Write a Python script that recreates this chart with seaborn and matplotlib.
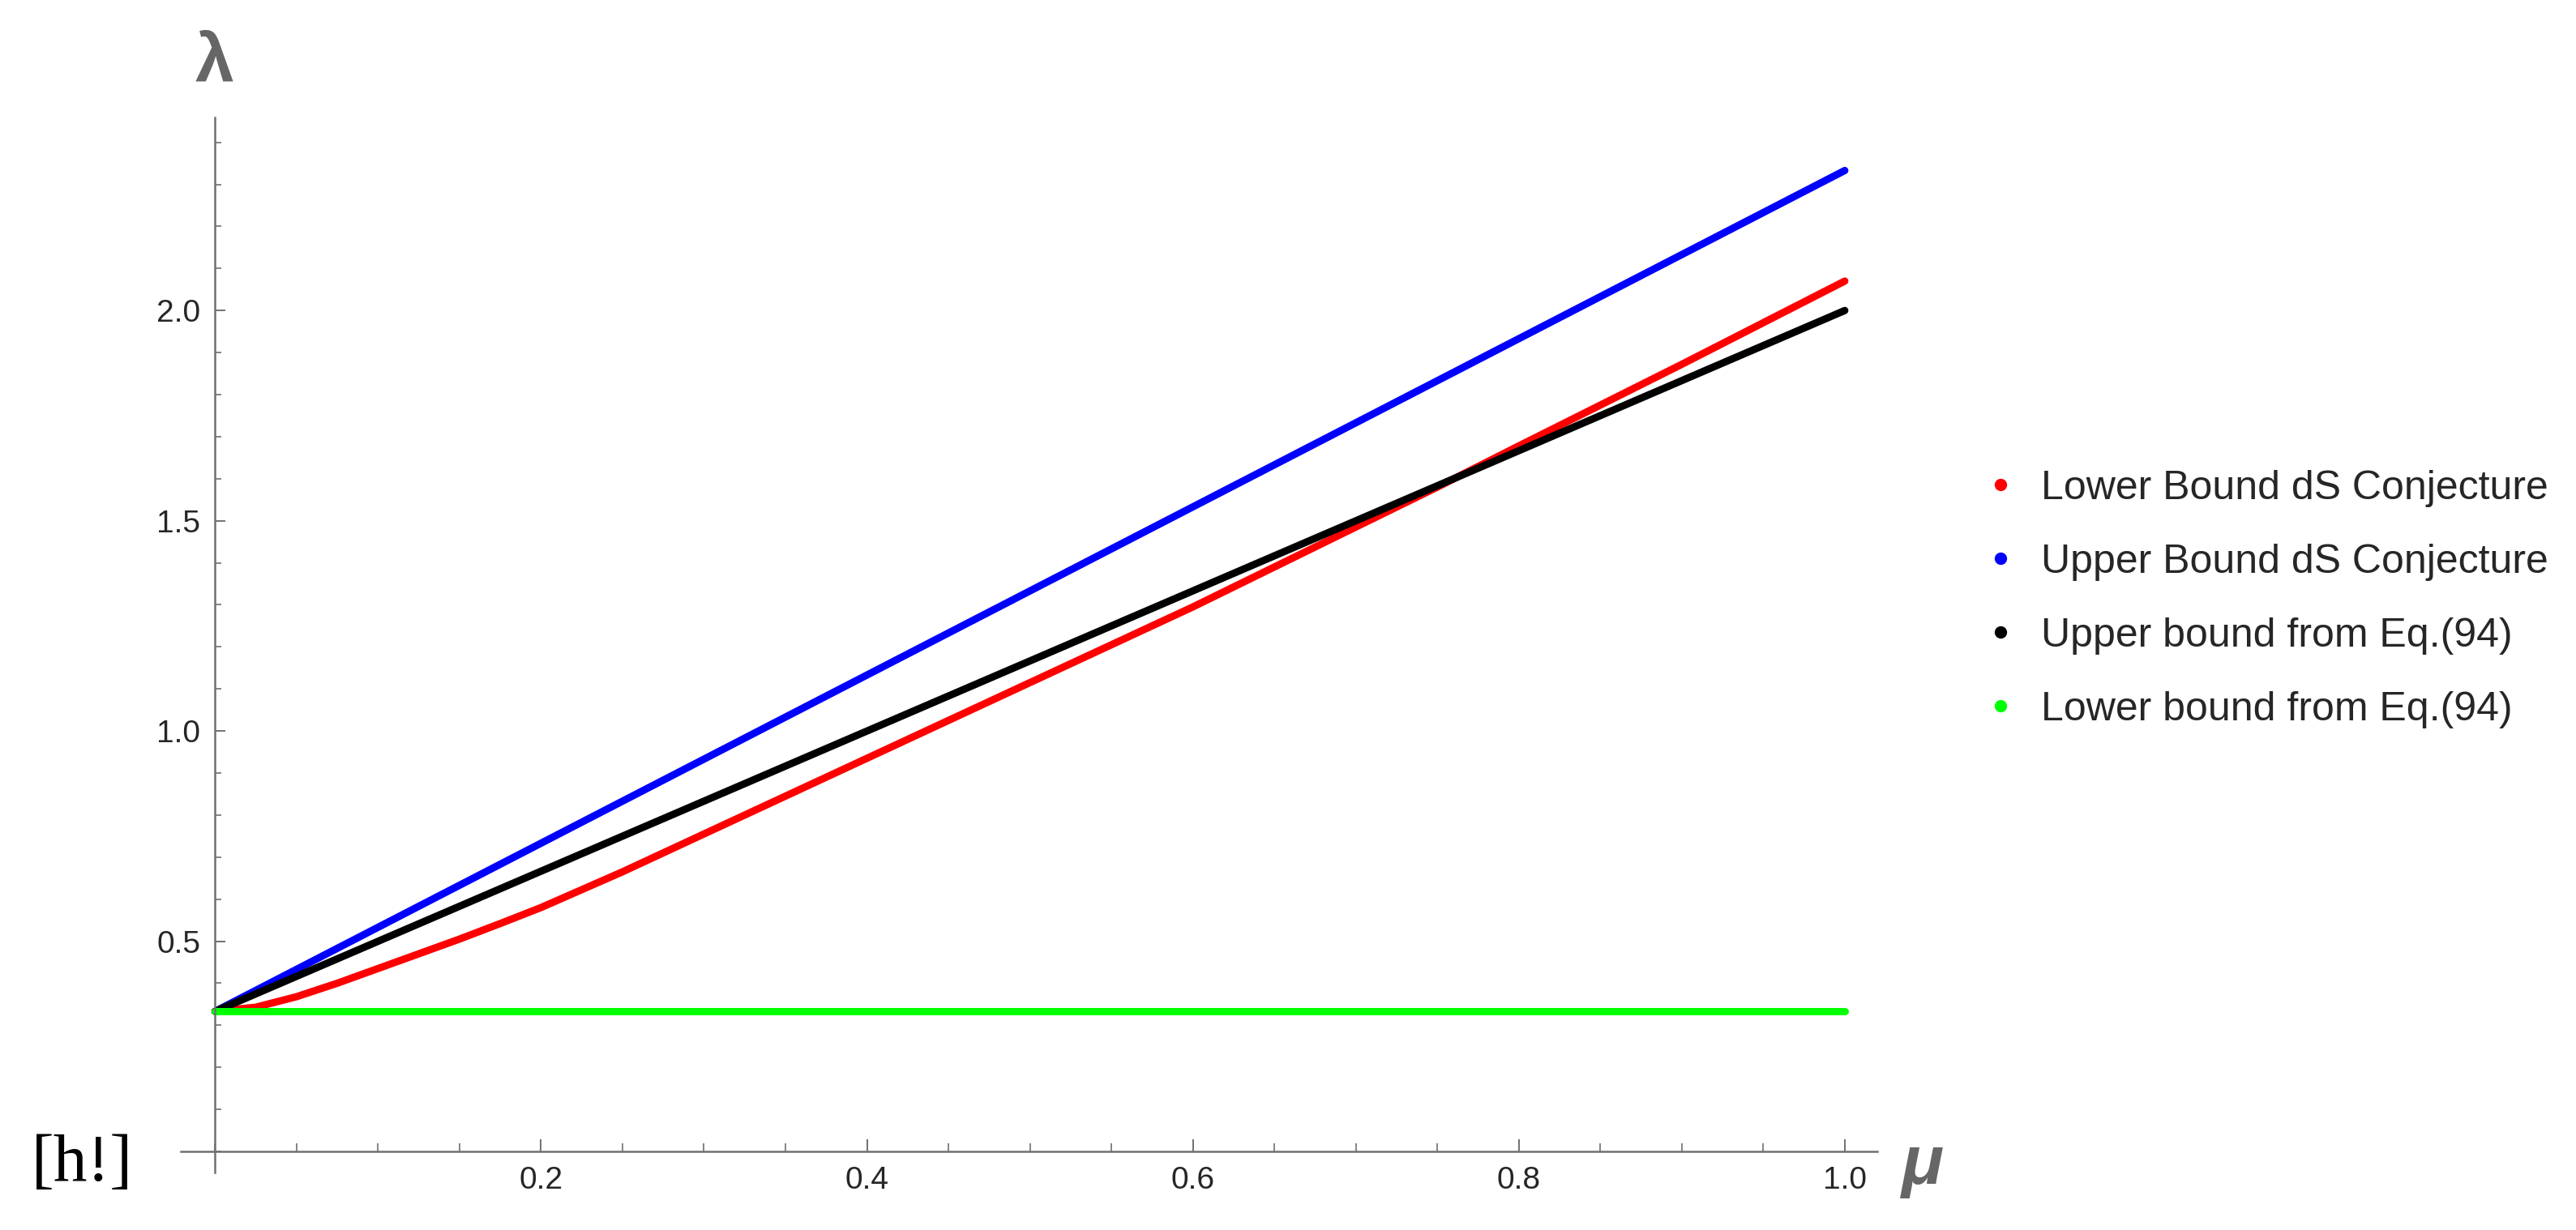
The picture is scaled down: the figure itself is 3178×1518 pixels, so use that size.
import numpy as np
import pandas as pd
import seaborn as sns
from matplotlib import pyplot as plt
from matplotlib.lines import Line2D
from matplotlib.ticker import MultipleLocator, FixedLocator

# values
mu_red = [0.0, 0.025, 0.05, 0.075, 0.1, 0.125, 0.15, 0.175, 0.2, 0.25, 0.3, 0.35,
          0.4, 0.45, 0.5, 0.55, 0.6, 0.65, 0.7, 0.75, 0.8, 0.85, 0.9, 0.95, 1.0]
lam_red = [0.333, 0.343, 0.368, 0.4, 0.435, 0.47, 0.505, 0.542, 0.58, 0.665,
           0.755, 0.845, 0.935, 1.025, 1.115, 1.205, 1.295, 1.39, 1.485, 1.58,
           1.678, 1.775, 1.872, 1.971, 2.07]
mu_ends = [0.0, 1.0]
lam_blue = [0.333, 2.333]
lam_black = [0.333, 2.0]
lam_green = [0.333, 0.333]

labels = ["Lower Bound dS Conjecture", "Upper Bound dS Conjecture",
          "Upper bound from Eq.(94)", "Lower bound from Eq.(94)"]
colors = ["#ff0000", "#0000ff", "#000000", "#00ff00"]

x_ticks = [0.2, 0.4, 0.6, 0.8, 1.0]
y_ticks = [0.5, 1.0, 1.5, 2.0]


def build_frame() -> pd.DataFrame:
    parts = [
        pd.DataFrame({"mu": mu_red, "lam": lam_red, "series": labels[0]}),
        pd.DataFrame({"mu": mu_ends, "lam": lam_blue, "series": labels[1]}),
        pd.DataFrame({"mu": mu_ends, "lam": lam_black, "series": labels[2]}),
        pd.DataFrame({"mu": mu_ends, "lam": lam_green, "series": labels[3]}),
    ]
    return pd.concat(parts, ignore_index=True)


def main():
    sns.set_style("white")
    plt.rcParams["font.family"] = ["Liberation Sans", "DejaVu Sans"]

    df = build_frame()
    axis_grey = "#707070"

    fig = plt.figure(figsize=(31.78, 15.18), dpi=100)
    ax = fig.add_axes([0.0702, 0.0468, 0.6586, 0.858])

    sns.lineplot(data=df, x="mu", y="lam", hue="series", hue_order=labels,
                 palette=colors, linewidth=6.5, legend=False, sort=False,
                 estimator=None, ax=ax, solid_capstyle="round",
                 solid_joinstyle="round")

    ax.set_xlim(-0.021, 1.02)
    ax.set_ylim(-0.05, 2.46)

    # Mathematica style axes crossing at the origin
    for side in ["top", "right"]:
        ax.spines[side].set_visible(False)
    for side in ["left", "bottom"]:
        ax.spines[side].set_position(("data", 0))
        ax.spines[side].set_color(axis_grey)
        ax.spines[side].set_linewidth(1.8)

    ax.xaxis.set_major_locator(FixedLocator(x_ticks))
    ax.yaxis.set_major_locator(FixedLocator(y_ticks))
    ax.xaxis.set_minor_locator(MultipleLocator(0.05))
    ax.yaxis.set_minor_locator(MultipleLocator(0.1))
    ax.set_xticklabels([f"{v:.1f}" for v in x_ticks])
    ax.set_yticklabels([f"{v:.1f}" for v in y_ticks])

    ax.tick_params(which="both", bottom=True, left=True)
    ax.tick_params(axis="x", which="major", direction="in", length=11, width=1.4,
                   color=axis_grey, labelsize=28, pad=13)
    ax.tick_params(axis="x", which="minor", direction="in", length=7.5, width=1.2,
                   color=axis_grey)
    ax.tick_params(axis="y", which="major", direction="in", length=9, width=1.4,
                   color=axis_grey, labelsize=28, pad=13)
    ax.tick_params(axis="y", which="minor", direction="in", length=6, width=1.2,
                   color=axis_grey)
    ax.set_xlabel("")
    ax.set_ylabel("")

    # axis names
    fig.text(0.0834, 0.948, "λ", fontsize=62, fontweight="bold",
             color="#666666", ha="center", va="center")
    fig.text(0.7465, 0.052, "μ", fontsize=62, fontweight="bold", style="italic",
             color="#666666", ha="center", va="center")
    fig.text(0.032, 0.053, "[h!]", fontsize=60, family="Liberation Serif",
             color="black", ha="center", va="center")

    handles = [Line2D([0], [0], marker="o", linestyle="none", markersize=10,
                      markerfacecolor=c, markeredgecolor=c) for c in colors]
    ax.legend(handles, labels, loc="center left", bbox_to_anchor=(0.772, 0.513),
              bbox_transform=fig.transFigure, frameon=False, fontsize=36,
              handlelength=0.6, handletextpad=0.7, labelspacing=0.9,
              borderpad=0, borderaxespad=0)

    fig.savefig("out.png", dpi=100)


if __name__ == "__main__":
    main()
